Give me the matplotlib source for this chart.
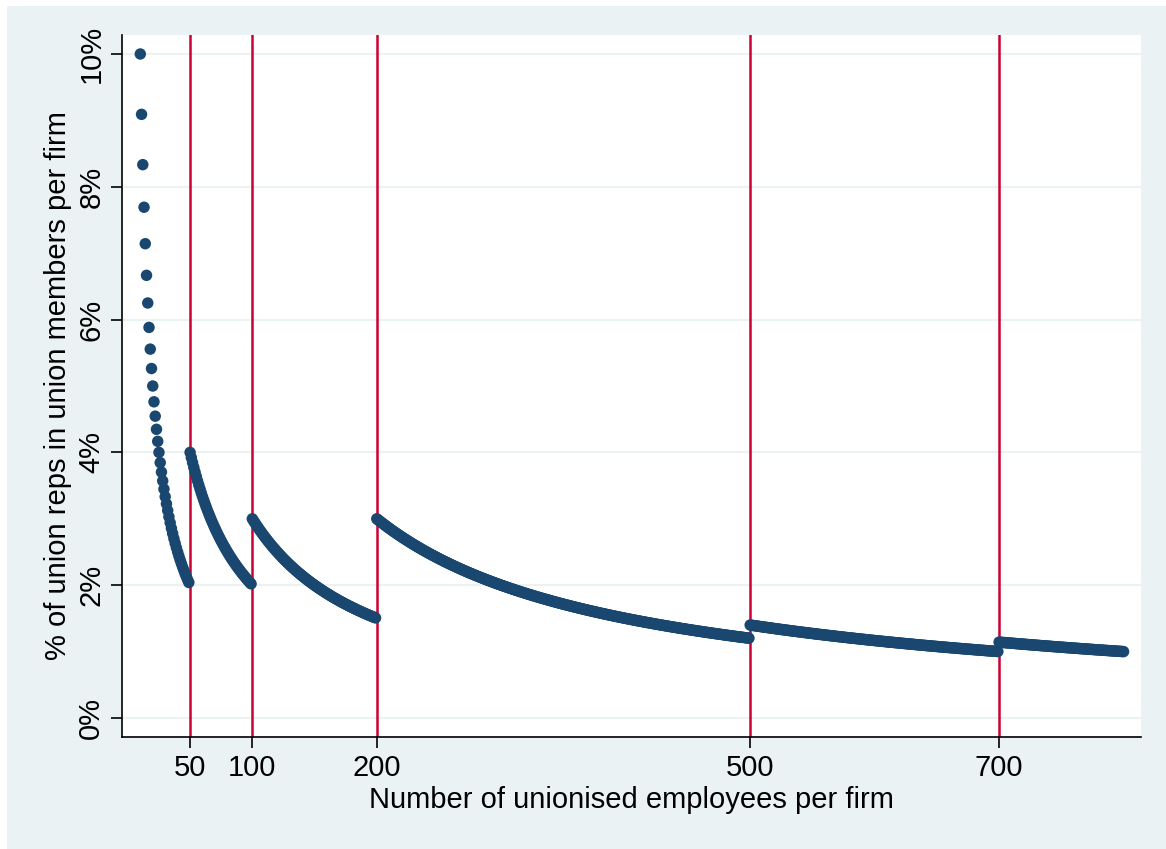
import matplotlib
matplotlib.use('Agg')
import matplotlib.pyplot as plt
import numpy as np

# firm size thresholds and number of union reps from that threshold on
thresholds = [10, 50, 100, 200, 500, 700]
reps = [1, 2, 3, 6, 7, 8]
max_employees = 800
vlines = [50, 100, 200, 500, 700]

employees = np.arange(10, max_employees + 1)
idx = np.searchsorted(thresholds, employees, side='right') - 1
share = np.array(reps)[idx] / employees * 100

plt.rcParams['font.family'] = ['Liberation Sans', 'DejaVu Sans']

bg = '#eaf2f3'
fig = plt.figure(figsize=(11.66, 8.49), dpi=100)
fig.patch.set_facecolor('white')
# outer stata-like panel
fig.patches.append(plt.Rectangle((7/1166, 0), 1, 1 - 6/849, transform=fig.transFigure,
                                 facecolor=bg, edgecolor='none', zorder=-10))

ax = fig.add_axes([122/1166, 112/849, (1141-122)/1166, (737-35)/849])
ax.set_facecolor('white')

for v in vlines:
    ax.axvline(v, color='#cc0033', lw=1.8, zorder=2)

ax.scatter(employees, share, s=68, color='#1a476f', edgecolors='none', zorder=3)

ax.set_xlim(-4.7, 814)
ax.set_ylim(-0.286, 10.286)
ax.set_xticks(vlines)
ax.set_yticks([0, 2, 4, 6, 8, 10])
ax.set_yticklabels(['0%', '2%', '4%', '6%', '8%', '10%'], rotation=90, va='center')
ax.yaxis.grid(True, color=bg, lw=1.5, zorder=0)
ax.set_axisbelow(True)

for s in ['top', 'right']:
    ax.spines[s].set_visible(False)
for s in ['left', 'bottom']:
    ax.spines[s].set_linewidth(1.2)

ax.tick_params(axis='both', length=8, width=1.2, labelsize=21, pad=4)
ax.set_xlabel('Number of unionised employees per firm', fontsize=21, labelpad=3)
ax.set_ylabel('% of union reps in union members per firm', fontsize=21, labelpad=4)

fig.savefig('out.png', dpi=100, facecolor=fig.get_facecolor())
